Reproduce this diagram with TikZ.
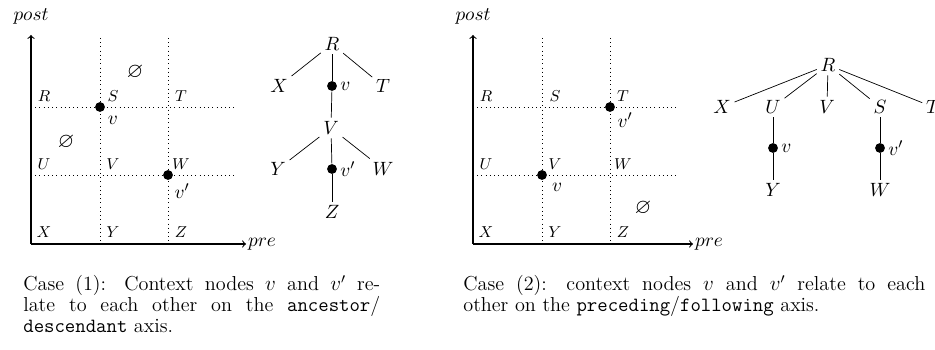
\documentclass[tikz,border=0pt]{standalone}
\usepackage{amssymb}
\usetikzlibrary{positioning}
\tikzset{axis/.style={->,semithick},
  gridline/.style={dotted,thin},
  cell/.style={font=\fontsize{9.5}{11}\selectfont,inner sep=0pt},
  tnode/.style={font=\fontsize{11}{13}\selectfont,inner sep=2pt},
  ctx/.style={circle,fill,inner sep=0pt,minimum size=5.6pt},
  ctxlabel/.style={font=\fontsize{11}{13}\selectfont,inner sep=0.5pt},
  axlabel/.style={font=\fontsize{11}{13}\selectfont},
  caption/.style={font=\fontsize{11.5}{12}\selectfont,anchor=north west,inner sep=0pt,align=justify}}

\begin{document}
\begin{tikzpicture}[x=0.02cm,y=-0.02cm, every node/.style={font=\normalsize}]
\useasboundingbox (0,0) rectangle (935,350);
% case (1): pre/post plane
\draw[gridline] (31,107) -- (237,107); \draw[gridline] (31,175) -- (237,175);
\draw[gridline] (100,38) -- (100,244); \draw[gridline] (168,38) -- (168,244);
\draw[axis] (31,244) -- (31,35); \draw[axis] (31,244) -- (246,244);
\node[axlabel] (post1) at (31,16) {$post$};
\node[axlabel,anchor=mid west,inner sep=1pt] (pre1) at (246,243) {$pre$};
\node[cell] (pR) at (44,96) {$R$}; \node[cell] (pS) at (113,96) {$S$}; \node[cell] (pT) at (181,96) {$T$};
\node[cell] (pU) at (44,164) {$U$}; \node[cell] (pV) at (113,164) {$V$}; \node[cell] (pW) at (181,164) {$W$};
\node[cell] (pX) at (44,232) {$X$}; \node[cell] (pY) at (113,232) {$Y$}; \node[cell] (pZ) at (181,232) {$Z$};
\node[font=\large] (pe1) at (135,72) {$\varnothing$}; \node[font=\large] (pe2) at (66,142) {$\varnothing$};
\node[ctx] (pv) at (100,107) {}; \node[ctxlabel] (pvl) at (113,120) {$v$};
\node[ctx] (pvp) at (168,175) {}; \node[ctxlabel] (pvpl) at (182,191) {$v'$};
% case (1): tree
\node[tnode] (aR) at (332,44) {$R$};
\node[tnode] (aX) at (279,86) {$X$};
\node[ctx] (av) at (332,86) {}; \node[ctxlabel,right=1pt of av] (avl) {$v$};
\node[tnode] (aT) at (383,86) {$T$};
\node[tnode] (aV) at (331,128) {$V$};
\node[tnode] (aY) at (278,169) {$Y$};
\node[ctx] (avp) at (332,169) {}; \node[ctxlabel,right=1pt of avp] (avpl) {$v'$};
\node[tnode] (aW) at (383,169) {$W$};
\node[tnode] (aZ) at (332,212) {$Z$};
\draw (aR)--(aX); \draw (aR)--(av); \draw (aR)--(aT); \draw (av)--(aV);
\draw (aV)--(aY); \draw (aV)--(avp); \draw (aV)--(aW); \draw (avp)--(aZ);
% case (2): pre/post plane
\draw[gridline] (473,107) -- (678,107); \draw[gridline] (473,175) -- (678,175);
\draw[gridline] (542,38) -- (542,244); \draw[gridline] (610,38) -- (610,244);
\draw[axis] (473,244) -- (473,35); \draw[axis] (473,244) -- (693,244);
\node[axlabel] (post2) at (473,16) {$post$};
\node[axlabel,anchor=mid west,inner sep=1pt] (pre2) at (693,243) {$pre$};
\node[cell] (qR) at (486,96) {$R$}; \node[cell] (qS) at (555,96) {$S$}; \node[cell] (qT) at (623,96) {$T$};
\node[cell] (qU) at (486,164) {$U$}; \node[cell] (qV) at (555,164) {$V$}; \node[cell] (qW) at (623,164) {$W$};
\node[cell] (qX) at (486,232) {$X$}; \node[cell] (qY) at (555,232) {$Y$}; \node[cell] (qZ) at (623,232) {$Z$};
\node[font=\large] (qe) at (643,208) {$\varnothing$};
\node[ctx] (qv) at (542,175) {}; \node[ctxlabel] (qvl) at (557,187) {$v$};
\node[ctx] (qvp) at (610,107) {}; \node[ctxlabel] (qvpl) at (625,120) {$v'$};
% case (2): tree
\node[tnode] (bR) at (828,65) {$R$};
\node[tnode] (bX) at (722,107) {$X$}; \node[tnode] (bU) at (773,107) {$U$};
\node[tnode] (bV) at (827,107) {$V$}; \node[tnode] (bS) at (880,107) {$S$};
\node[tnode] (bT) at (933,107) {$T$};
\node[ctx] (bv) at (773,148) {}; \node[ctxlabel,right=1pt of bv] (bvl) {$v$};
\node[ctx] (bvp) at (880,148) {}; \node[ctxlabel,right=1pt of bvp] (bvpl) {$v'$};
\node[tnode] (bY) at (773,190) {$Y$}; \node[tnode] (bW) at (880,190) {$W$};
\draw (bR)--(bX); \draw (bR)--(bU); \draw (bR)--(bV); \draw (bR)--(bS); \draw (bR)--(bT);
\draw (bU)--(bv); \draw (bv)--(bY); \draw (bS)--(bvp); \draw (bvp)--(bW);
% captions
\node[caption,text width=7.14cm] (cap1) at (23,275) {Case (1): Context nodes $v$ and $v'$ re-\linebreak late to each other on the \texttt{ancestor}/\linebreak \texttt{descendant} axis.};
\node[caption,text width=9.24cm] (cap2) at (463,275) {Case (2): context nodes $v$ and $v'$ relate to each\linebreak other on the \texttt{preceding}/\texttt{following} axis.};
\end{tikzpicture}
\end{document}
